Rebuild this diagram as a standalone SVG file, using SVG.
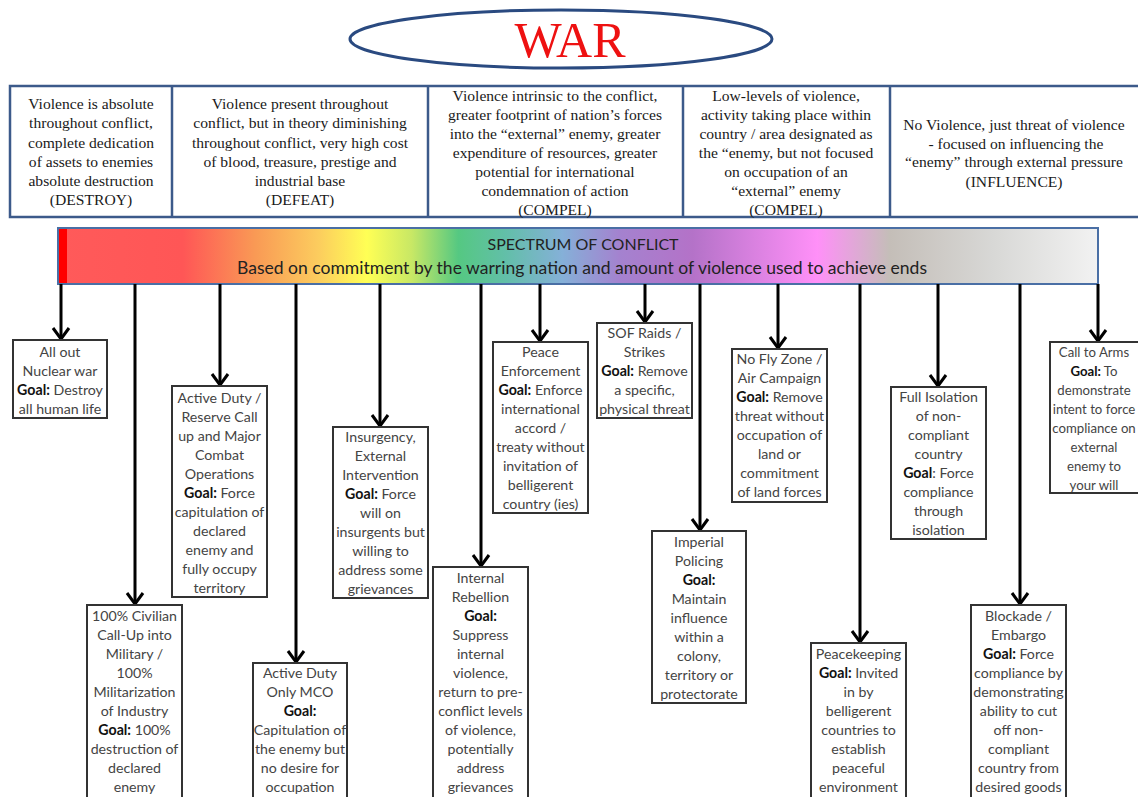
<svg xmlns="http://www.w3.org/2000/svg" width="1138" height="797" viewBox="0 0 1138 797">
<style>
.hdr{font-family:"Liberation Serif",serif;font-size:15.6px;fill:#1a1a1a;text-anchor:middle}
.band{fill:#fff;stroke:#3c5a8a;stroke-width:2.5}
.div{stroke:#3c5a8a;stroke-width:2.5}
.box{fill:#fff;stroke:#333;stroke-width:2}
.nt{font-family:Lato,"Liberation Sans",sans-serif;font-size:14.2px;fill:#444;text-anchor:middle}
.g{font-weight:bold;fill:#111}
.sp{font-family:Lato,"Liberation Sans",sans-serif;fill:#222;text-anchor:middle}
.con line{stroke:#000;stroke-width:3;marker-end:url(#ah)}
</style>
<defs>
<marker id="ah" viewBox="-13 -10 15 20" markerWidth="15" markerHeight="20" refX="0" refY="0" orient="auto" markerUnits="userSpaceOnUse">
<path d="M-11,-8 L0,0 L-11,8" fill="none" stroke="#000" stroke-width="3"/>
</marker>
<linearGradient id="spec" x1="0" y1="0" x2="1" y2="0">
<stop offset="0" stop-color="#ff5a5a"/>
<stop offset="0.12" stop-color="#ff5656"/>
<stop offset="0.19" stop-color="#f99a55"/>
<stop offset="0.25" stop-color="#fccc5e"/>
<stop offset="0.297" stop-color="#ffff55"/>
<stop offset="0.34" stop-color="#c8e865"/>
<stop offset="0.385" stop-color="#55c882"/>
<stop offset="0.43" stop-color="#62bfa8"/>
<stop offset="0.485" stop-color="#85b0d8"/>
<stop offset="0.54" stop-color="#a482cf"/>
<stop offset="0.61" stop-color="#b472c8"/>
<stop offset="0.73" stop-color="#ff90f8"/>
<stop offset="0.80" stop-color="#c4beb8"/>
<stop offset="0.90" stop-color="#d8d8d6"/>
<stop offset="1" stop-color="#f2f2f2"/>
</linearGradient>
</defs>
<rect width="1138" height="797" fill="#fff"/>

<g id="title">
<ellipse cx="561" cy="39" rx="211" ry="29" fill="#fff" stroke="#2a4a80" stroke-width="3"/>
<text x="570" y="57" font-family="Liberation Serif,serif" font-size="50" fill="#ee1111" text-anchor="middle">WAR</text>
</g>

<g id="header">
<rect class="band" x="10" y="86" width="1135" height="131"/>
<line class="div" x1="172" y1="86" x2="172" y2="217"/>
<line class="div" x1="428" y1="86" x2="428" y2="217"/>
<line class="div" x1="683" y1="86" x2="683" y2="217"/>
<line class="div" x1="890" y1="86" x2="890" y2="217"/>
<text class="hdr"><tspan x="91" y="109">Violence is absolute</tspan><tspan x="91" y="128">throughout conflict,</tspan><tspan x="91" y="148">complete dedication</tspan><tspan x="91" y="167">of assets to enemies</tspan><tspan x="91" y="186">absolute destruction</tspan><tspan x="91" y="205">(DESTROY)</tspan></text>
<text class="hdr"><tspan x="300" y="109">Violence present throughout</tspan><tspan x="300" y="128">conflict, but in theory diminishing</tspan><tspan x="300" y="148">throughout conflict, very high cost</tspan><tspan x="300" y="167">of blood, treasure, prestige and</tspan><tspan x="300" y="186">industrial base</tspan><tspan x="300" y="205">(DEFEAT)</tspan></text>
<text class="hdr"><tspan x="555" y="101">Violence intrinsic to the conflict,</tspan><tspan x="555" y="120">greater footprint of nation’s forces</tspan><tspan x="555" y="139">into the “external” enemy, greater</tspan><tspan x="555" y="158">expenditure of resources, greater</tspan><tspan x="555" y="177">potential for international</tspan><tspan x="555" y="196">condemnation of action</tspan><tspan x="555" y="215">(COMPEL)</tspan></text>
<text class="hdr"><tspan x="786" y="101">Low-levels of violence,</tspan><tspan x="786" y="120">activity taking place within</tspan><tspan x="786" y="139">country / area designated as</tspan><tspan x="786" y="158">the “enemy, but not focused</tspan><tspan x="786" y="177">on occupation of an</tspan><tspan x="786" y="196">“external” enemy</tspan><tspan x="786" y="215">(COMPEL)</tspan></text>
<text class="hdr"><tspan x="1014" y="130">No Violence, just threat of violence</tspan><tspan x="1014" y="149"> -  focused on influencing the</tspan><tspan x="1014" y="167">“enemy” through external pressure</tspan><tspan x="1014" y="187">(INFLUENCE)</tspan></text>
</g>

<g id="spectrum">
<rect x="58" y="228" width="1040" height="56" fill="url(#spec)" stroke="#4a6fa5" stroke-width="2"/>
<rect x="59" y="229" width="8" height="54" fill="#ff0000"/>
<text class="sp" x="583" y="250" font-size="16">SPECTRUM OF CONFLICT</text>
<text class="sp" x="582" y="274" font-size="16.5" textLength="690" lengthAdjust="spacingAndGlyphs">Based on commitment by the warring nation and amount of violence used to achieve ends</text>
</g>

<g id="connectors" class="con">
<line x1="61" y1="284" x2="61" y2="339"/>
<line x1="135" y1="284" x2="135" y2="604"/>
<line x1="220" y1="284" x2="220" y2="385"/>
<line x1="296" y1="284" x2="296" y2="662"/>
<line x1="380" y1="284" x2="380" y2="426"/>
<line x1="481" y1="284" x2="481" y2="566"/>
<line x1="540" y1="284" x2="540" y2="341"/>
<line x1="645" y1="284" x2="645" y2="322"/>
<line x1="700" y1="284" x2="700" y2="530"/>
<line x1="778" y1="284" x2="778" y2="348"/>
<line x1="860" y1="284" x2="860" y2="642"/>
<line x1="938" y1="284" x2="938" y2="386"/>
<line x1="1020" y1="284" x2="1020" y2="604"/>
<line x1="1098" y1="284" x2="1098" y2="341"/>
</g>

<g id="n1"><rect class="box" x="13" y="340" width="94" height="78"/>
<text class="nt"><tspan x="60" y="357">All out</tspan><tspan x="60" y="376">Nuclear war</tspan><tspan x="60" y="395"><tspan class="g">Goal:</tspan> Destroy</tspan><tspan x="60" y="414">all human life</tspan></text></g>

<g id="n2"><rect class="box" x="87" y="605" width="95" height="200"/>
<text class="nt"><tspan x="134.5" y="621">100% Civilian</tspan><tspan x="134.5" y="640">Call-Up into</tspan><tspan x="134.5" y="659">Military /</tspan><tspan x="134.5" y="678">100%</tspan><tspan x="134.5" y="697">Militarization</tspan><tspan x="134.5" y="716">of Industry</tspan><tspan x="134.5" y="735"><tspan class="g">Goal:</tspan> 100%</tspan><tspan x="134.5" y="754">destruction of</tspan><tspan x="134.5" y="773">declared</tspan><tspan x="134.5" y="792">enemy</tspan></text></g>

<g id="n3"><rect class="box" x="172" y="386" width="95" height="211"/>
<text class="nt"><tspan x="219.5" y="403">Active Duty /</tspan><tspan x="219.5" y="422">Reserve Call</tspan><tspan x="219.5" y="441">up and Major</tspan><tspan x="219.5" y="460">Combat</tspan><tspan x="219.5" y="479">Operations</tspan><tspan x="219.5" y="498"><tspan class="g">Goal:</tspan> Force</tspan><tspan x="219.5" y="517">capitulation of</tspan><tspan x="219.5" y="536">declared</tspan><tspan x="219.5" y="555">enemy and</tspan><tspan x="219.5" y="574">fully occupy</tspan><tspan x="219.5" y="593">territory</tspan></text></g>

<g id="n4"><rect class="box" x="253" y="663" width="94" height="150"/>
<text class="nt"><tspan x="300" y="678">Active Duty</tspan><tspan x="300" y="697">Only MCO</tspan><tspan x="300" y="716" class="g">Goal:</tspan><tspan x="300" y="735">Capitulation of</tspan><tspan x="300" y="754">the enemy but</tspan><tspan x="300" y="773">no desire for</tspan><tspan x="300" y="792">occupation</tspan></text></g>

<g id="n5"><rect class="box" x="333" y="427" width="95" height="171"/>
<text class="nt"><tspan x="380.5" y="442">Insurgency,</tspan><tspan x="380.5" y="461">External</tspan><tspan x="380.5" y="480">Intervention</tspan><tspan x="380.5" y="499"><tspan class="g">Goal:</tspan> Force</tspan><tspan x="380.5" y="518">will on</tspan><tspan x="380.5" y="537">insurgents but</tspan><tspan x="380.5" y="556">willing to</tspan><tspan x="380.5" y="575">address some</tspan><tspan x="380.5" y="594">grievances</tspan></text></g>

<g id="n6"><rect class="box" x="433" y="567" width="95" height="240"/>
<text class="nt"><tspan x="480.5" y="583">Internal</tspan><tspan x="480.5" y="602">Rebellion</tspan><tspan x="480.5" y="621" class="g">Goal:</tspan><tspan x="480.5" y="640">Suppress</tspan><tspan x="480.5" y="659">internal</tspan><tspan x="480.5" y="678">violence,</tspan><tspan x="480.5" y="697">return to pre-</tspan><tspan x="480.5" y="716">conflict levels</tspan><tspan x="480.5" y="735">of violence,</tspan><tspan x="480.5" y="754">potentially</tspan><tspan x="480.5" y="773">address</tspan><tspan x="480.5" y="792">grievances</tspan></text></g>

<g id="n7"><rect class="box" x="493" y="342" width="95" height="171"/>
<text class="nt"><tspan x="540.5" y="357">Peace</tspan><tspan x="540.5" y="376">Enforcement</tspan><tspan x="540.5" y="395"><tspan class="g">Goal:</tspan> Enforce</tspan><tspan x="540.5" y="414">international</tspan><tspan x="540.5" y="433">accord /</tspan><tspan x="540.5" y="452">treaty without</tspan><tspan x="540.5" y="471">invitation of</tspan><tspan x="540.5" y="490">belligerent</tspan><tspan x="540.5" y="509">country (ies)</tspan></text></g>

<g id="n8"><rect class="box" x="597" y="323" width="95" height="95"/>
<text class="nt"><tspan x="644.5" y="338">SOF Raids /</tspan><tspan x="644.5" y="357">Strikes</tspan><tspan x="644.5" y="376"><tspan class="g">Goal:</tspan> Remove</tspan><tspan x="644.5" y="395">a specific,</tspan><tspan x="644.5" y="414">physical threat</tspan></text></g>

<g id="n9"><rect class="box" x="652" y="531" width="94" height="172"/>
<text class="nt"><tspan x="699" y="547">Imperial</tspan><tspan x="699" y="566">Policing</tspan><tspan x="699" y="585" class="g">Goal:</tspan><tspan x="699" y="604">Maintain</tspan><tspan x="699" y="623">influence</tspan><tspan x="699" y="642">within a</tspan><tspan x="699" y="661">colony,</tspan><tspan x="699" y="680">territory or</tspan><tspan x="699" y="699">protectorate</tspan></text></g>

<g id="n10"><rect class="box" x="732" y="349" width="95" height="153"/>
<text class="nt"><tspan x="779.5" y="364">No Fly Zone /</tspan><tspan x="779.5" y="383">Air Campaign</tspan><tspan x="779.5" y="402"><tspan class="g">Goal:</tspan> Remove</tspan><tspan x="779.5" y="421">threat without</tspan><tspan x="779.5" y="440">occupation of</tspan><tspan x="779.5" y="459">land or</tspan><tspan x="779.5" y="478">commitment</tspan><tspan x="779.5" y="497">of land forces</tspan></text></g>

<g id="n11"><rect class="box" x="811" y="643" width="95" height="170"/>
<text class="nt"><tspan x="858.5" y="659">Peacekeeping</tspan><tspan x="858.5" y="678"><tspan class="g">Goal:</tspan> Invited</tspan><tspan x="858.5" y="697">in by</tspan><tspan x="858.5" y="716">belligerent</tspan><tspan x="858.5" y="735">countries to</tspan><tspan x="858.5" y="754">establish</tspan><tspan x="858.5" y="773">peaceful</tspan><tspan x="858.5" y="792">environment</tspan></text></g>

<g id="n12"><rect class="box" x="891" y="387" width="95" height="152"/>
<text class="nt"><tspan x="938.5" y="402">Full Isolation</tspan><tspan x="938.5" y="421">of non-</tspan><tspan x="938.5" y="440">compliant</tspan><tspan x="938.5" y="459">country</tspan><tspan x="938.5" y="478"><tspan class="g">Goal</tspan>: Force</tspan><tspan x="938.5" y="497">compliance</tspan><tspan x="938.5" y="516">through</tspan><tspan x="938.5" y="535">isolation</tspan></text></g>

<g id="n13"><rect class="box" x="971" y="605" width="95" height="200"/>
<text class="nt"><tspan x="1018.5" y="621">Blockade /</tspan><tspan x="1018.5" y="640">Embargo</tspan><tspan x="1018.5" y="659"><tspan class="g">Goal:</tspan> Force</tspan><tspan x="1018.5" y="678">compliance by</tspan><tspan x="1018.5" y="697">demonstrating</tspan><tspan x="1018.5" y="716">ability to cut</tspan><tspan x="1018.5" y="735">off non-</tspan><tspan x="1018.5" y="754">compliant</tspan><tspan x="1018.5" y="773">country from</tspan><tspan x="1018.5" y="792">desired goods</tspan></text></g>

<g id="n14"><rect class="box" x="1050" y="342" width="95" height="151"/>
<text class="nt" style="font-size:13.2px"><tspan x="1094" y="357">Call to Arms</tspan><tspan x="1094" y="376"><tspan class="g">Goal:</tspan> To</tspan><tspan x="1094" y="395">demonstrate</tspan><tspan x="1094" y="414">intent to force</tspan><tspan x="1094" y="433">compliance on</tspan><tspan x="1094" y="452">external</tspan><tspan x="1094" y="471">enemy  to</tspan><tspan x="1094" y="490">your will</tspan></text></g>
</svg>
